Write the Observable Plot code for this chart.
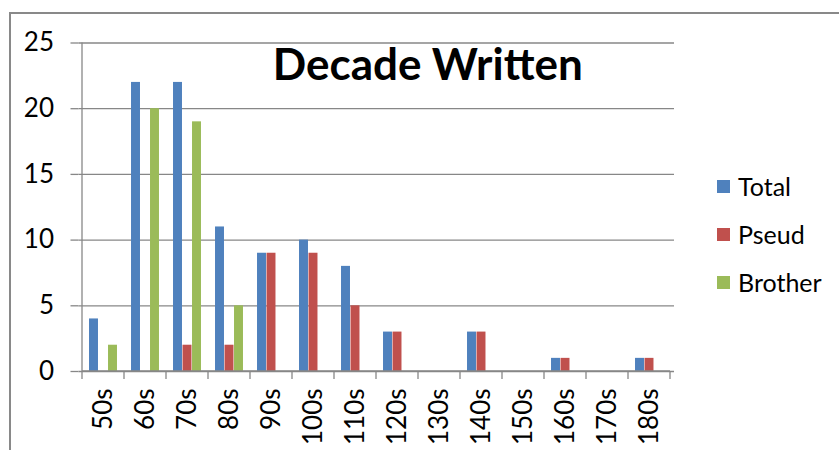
<!DOCTYPE html>
<html><head>
<meta charset="utf-8">
<script src="https://cdn.jsdelivr.net/npm/d3@7"></script>
<script src="https://cdn.jsdelivr.net/npm/@observablehq/plot@0.6"></script>
<style>
body{margin:0;background:#fff;}
#wrap{position:relative;width:839px;height:450px;overflow:hidden;font-family:Lato,sans-serif;background:#fff;}
#frame{position:absolute;left:9px;top:12px;width:900px;height:500px;border:2px solid #898989;box-sizing:border-box;}
#chart{position:absolute;left:0;top:0;}
#legend{position:absolute;left:717px;top:162px;}
.item{display:flex;align-items:center;height:48px;font-size:25px;color:#000;}
.sw{width:13px;height:13px;margin-right:8px;}
#chart g[aria-label$="tick label"], #chart g[aria-label$="tick label"] text{font-size:26px !important;}
</style></head><body>
<div id="wrap"><div id="frame"></div><div id="chart"></div><div id="legend"></div></div>
<script>
const decades = ["50s","60s","70s","80s","90s","100s","110s","120s","130s","140s","150s","160s","170s","180s"];
const seriesNames = ["Total","Pseud","Brother"];
const seriesColors = ["#4F81BD","#C0504D","#9BBB59"];
const total   = [4,22,22,11,9,10,8,3,0,3,0,1,0,1];
const pseud   = [0,0,2,2,9,9,5,3,0,3,0,1,0,1];
const brother = [2,20,19,5,0,0,0,0,0,0,0,0,0,0];
const yTicks = [0,5,10,15,20,25];
const title = "Decade Written";

const rows = decades.map((d,i)=>({decade:d, Total:total[i], Pseud:pseud[i], Brother:brother[i]}));
const step = (674-78.5)/decades.length;
const barW = 9.5;
const inset = (step-barW)/2;
const grid = "#878787";

const barMarks = seriesNames.map((s,k)=>Plot.barY(rows,{x:"decade", y:s, fill:seriesColors[k], insetLeft:inset, insetRight:inset, dx:(k-1)*barW}));

const chart = Plot.plot({
  width:839, height:450,
  marginLeft:78.5, marginRight:165, marginTop:42.5, marginBottom:79,
  style:{fontFamily:"Lato, sans-serif", fontSize:"26px", background:"transparent", overflow:"visible"},
  x:{type:"band", domain:decades, padding:0, label:null},
  y:{domain:[0,25], label:null},
  marks:[
    Plot.ruleY(yTicks,{stroke:grid, strokeWidth:1.3, strokeOpacity:1}),
    ...barMarks,
    Plot.axisX({tickRotate:-90, tickSize:0, tickPadding:17, fontSize:26, fill:"#000"}),
    Plot.axisY({ticks:yTicks, tickSize:8, tickPadding:17, fontSize:26, fill:"#000", stroke:grid, strokeWidth:1.3, strokeOpacity:1}),
    Plot.text([title],{text:d=>d, frameAnchor:"top", dx:51, dy:6, fontSize:44, fontWeight:"bold", fill:"#000"})
  ]
});
document.getElementById("chart").appendChild(chart);

// axis lines and x-axis tick marks at band boundaries (positions from the x scale)
const xs = chart.scale("x"), ys = chart.scale("y");
const svg = d3.select(chart);
const y0 = ys.apply(0);
const bounds = decades.map(d=>xs.apply(d)).concat([xs.apply(decades[decades.length-1])+xs.bandwidth]);
svg.append("g").selectAll("line").data(bounds).join("line")
  .attr("x1",d=>d).attr("x2",d=>d).attr("y1",y0).attr("y2",y0+8)
  .attr("stroke",grid).attr("stroke-width",1.3);
svg.append("line").attr("x1",bounds[0]).attr("x2",bounds[bounds.length-1]).attr("y1",y0).attr("y2",y0)
  .attr("stroke",grid).attr("stroke-width",1.3);
svg.append("line").attr("x1",bounds[0]).attr("x2",bounds[0]).attr("y1",ys.apply(25)).attr("y2",y0)
  .attr("stroke",grid).attr("stroke-width",1.3);

const leg = document.getElementById("legend");
seriesNames.forEach((s,k)=>{
  const it = document.createElement("div"); it.className="item";
  const sw = document.createElement("div"); sw.className="sw"; sw.style.background=seriesColors[k];
  const tx = document.createElement("span"); tx.textContent=s;
  it.appendChild(sw); it.appendChild(tx); leg.appendChild(it);
});
</script>
</body></html>
